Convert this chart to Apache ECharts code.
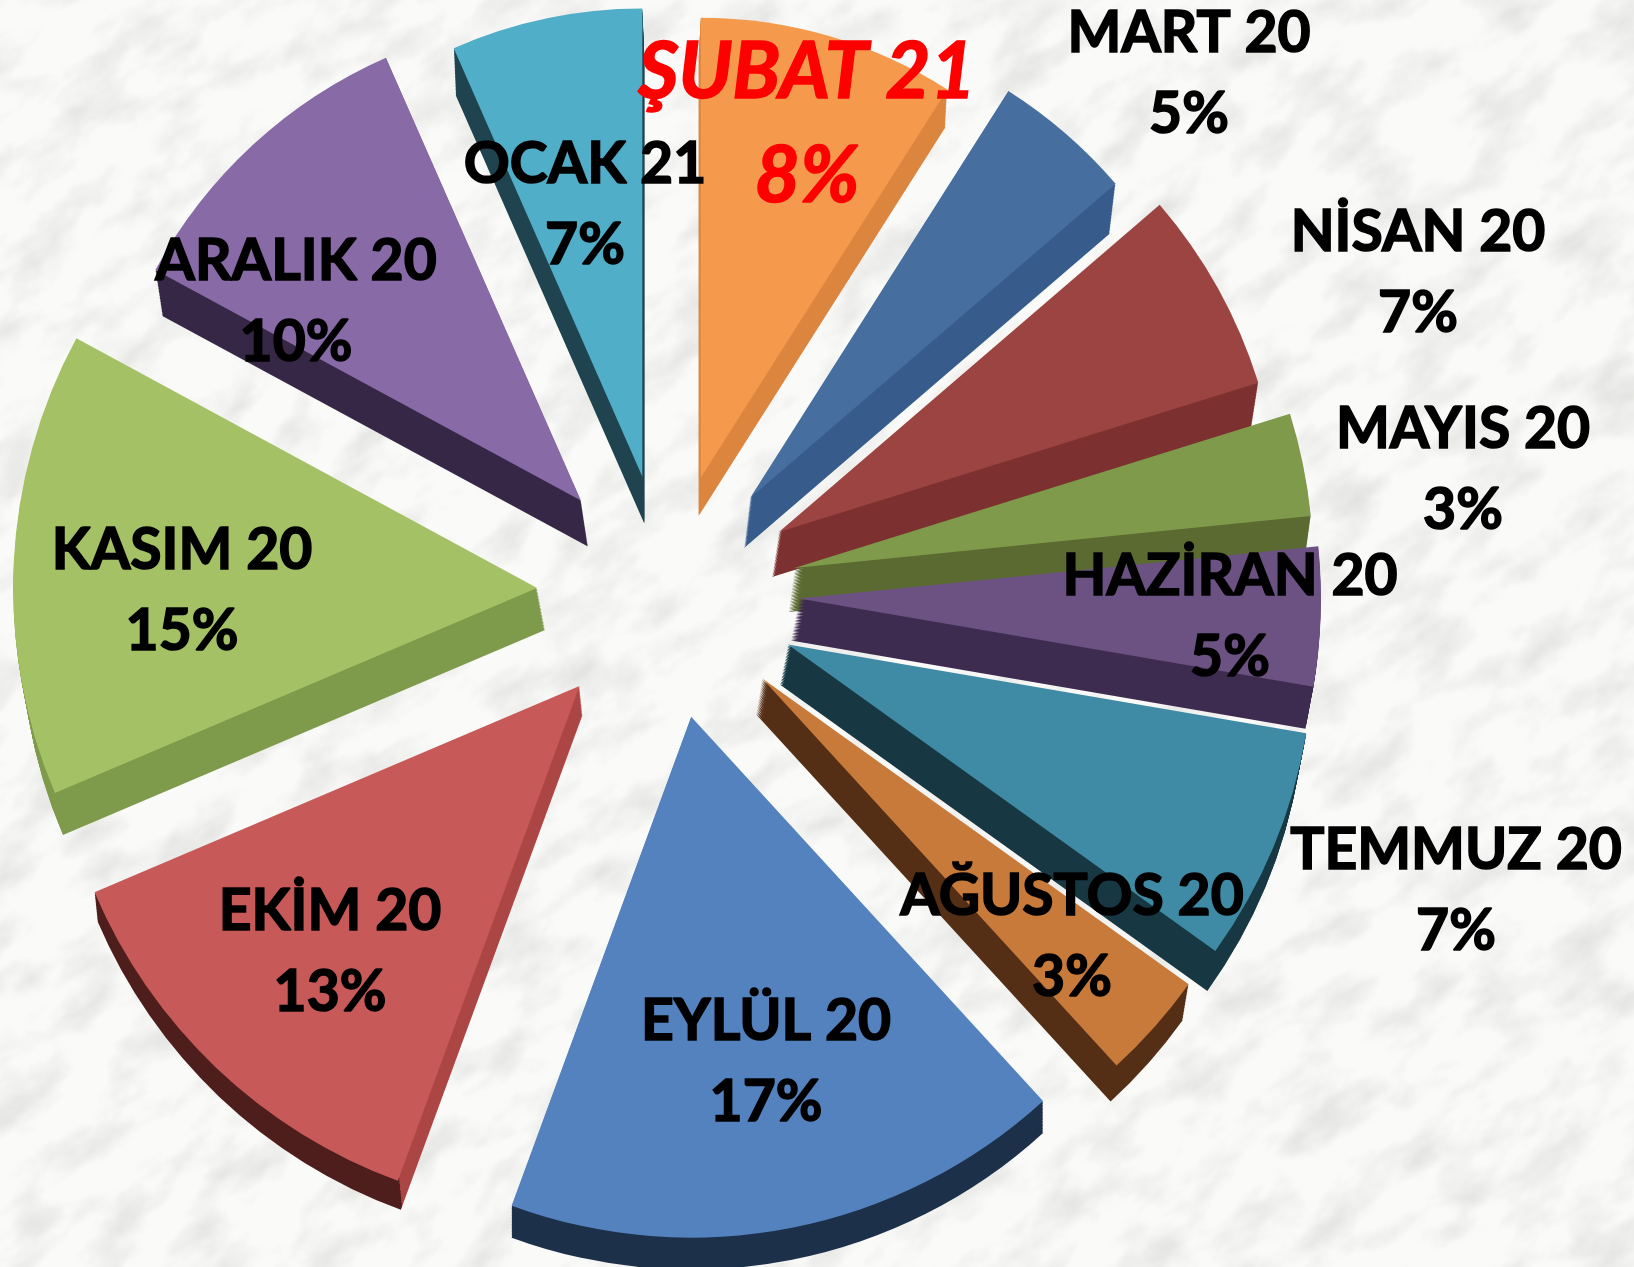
<!DOCTYPE html>
<html>
<head>
<meta charset="utf-8">
<title>Aylik dagilim</title>
<script src="https://cdn.jsdelivr.net/npm/echarts@6/dist/echarts.min.js"></script>
<style>
  html,body{margin:0;padding:0;background:#f7f7f5;overflow:hidden}
  #marble{position:absolute;left:0;top:0}
  #main{position:absolute;left:0;top:0;width:1634px;height:1267px}
</style>
</head>
<body>
<!-- mermer zemin -->
<svg id="marble" width="1634" height="1267">
  <defs>
    <filter id="veins" x="0" y="0" width="100%" height="100%">
      <feTurbulence type="fractalNoise" baseFrequency="0.014 0.026" numOctaves="5" seed="11"/>
      <feColorMatrix type="matrix" values="0 0 0 0 0.70  0 0 0 0 0.70  0 0 0 0 0.68  1.6 0 0 0 -0.70"/>
      <feGaussianBlur stdDeviation="0.8"/>
    </filter>
  </defs>
  <rect width="1634" height="1267" fill="#fafaf9"/>
  <g transform="rotate(-35 817 633)">
    <rect x="-500" y="-700" width="2700" height="2700" filter="url(#veins)"/>
  </g>
</svg>
<div id="main"></div>
<script>
// aylar, saat yonunde
const months = ['ŞUBAT 21','MART 20','NİSAN 20','MAYIS 20','HAZİRAN 20','TEMMUZ 20','AĞUSTOS 20','EYLÜL 20','EKİM 20','KASIM 20','ARALIK 20','OCAK 21']
// printed percentages
const percents = [8,5,7,3,5,7,3,17,13,15,10,7]
// share of the circle each wedge takes in the picture (perspective makes them differ from the labels)
const wedgeShare = [9.0,4.7,6.5,3.2,4.3,7.2,3.3,17.4,13.0,14.3,10.5,6.6]

const topColors  = ['#f59a4c','#466e9f','#9c4442','#7e9a4a','#6b5283','#3f8ba5','#c87a3a','#5482bf','#c75a58','#a5c165','#886aa6','#51aec9']
const sideColors = ['#dc853e','#375c8b','#7c3130','#5a6a30','#3e2c50','#173842','#552e16','#1d3049','#ac4644','#7e9a4b','#362746','#1f4450']
const rimColors  = ['#dc853e','#375c8b','#7c3130','#5a6a30','#3e2c50','#173842','#552e16','#1d3049','#4e1e1d','#7e9a4b','#362746','#1f4450']

// layout
const START_ANGLE = 90
const pieCenter = [667,594]
const radii   = [460,482,502,519,522,526,525,521,527,524,484,468]
const explode = [121,127,128,130,132,131,127,125,127,130,127,120]
const depthX  = [-2,-6,-7,-6,-8,-8,-6,0,3,8,7,2]
const depthY  = [38,50,45,44,42,40,36,32,29,42,46,47]
const labelX  = [807,1189,1418,1463,1230,1456,1072,766,330,182,296,585]
const labelY  = [125,74,273,470,617,891,937,1062,952,591,302,205]
const LAYER_STEP = 1.5

function pieSeries(i,center,color){
  return {
    type:'pie',
    silent:true,
    animation:false,
    startAngle:START_ANGLE,
    center:center,
    radius:[0,radii[i]],
    label:{show:false},
    labelLine:{show:false},
    emphasis:{disabled:true},
    data:months.map((name,k)=>({
      name:name,
      value:wedgeShare[k],
      itemStyle:{color:k===i?color:'transparent'}
    }))
  }
}

function buildSeries(){
  let series = []
  let total = wedgeShare.reduce((p,c)=>p+c,0)
  let acc = 0
  months.forEach((name,i)=>{
    let mid = (acc+wedgeShare[i]/2)/total*Math.PI*2
    acc += wedgeShare[i]
    let cx = pieCenter[0]+Math.sin(mid)*explode[i]
    let cy = pieCenter[1]-Math.cos(mid)*explode[i]
    // stack of darker copies makes the wall of the wedge
    let layers = Math.ceil(Math.hypot(depthX[i],depthY[i])/LAYER_STEP)
    for(let l=layers;l>0;l--){
      let lx = cx+depthX[i]*l/layers
      let ly = cy+depthY[i]*l/layers
      let edge = (radii[i]-4)/radii[i]
      let wall = {
        type:'radial',x:lx,y:ly,r:radii[i],global:true,
        colorStops:[
          {offset:0,color:sideColors[i]},
          {offset:edge,color:sideColors[i]},
          {offset:edge,color:rimColors[i]},
          {offset:1,color:rimColors[i]}
        ]
      }
      series.push(pieSeries(i,[lx,ly],wall))
    }
    series.push(pieSeries(i,[cx,cy],topColors[i]))
  })
  // labels on top of everything
  series.push({
    type:'pie',
    silent:true,
    animation:false,
    startAngle:START_ANGLE,
    center:pieCenter,
    radius:[0,100],
    itemStyle:{color:'transparent'},
    labelLine:{show:false},
    emphasis:{disabled:true},
    label:{
      show:true,
      position:'inside',
      formatter:p=>p.name+'\n'+percents[p.dataIndex]+'%',
      fontFamily:'Lato',
      fontWeight:'bold',
      fontSize:57,
      lineHeight:81,
      color:'#000',
      textBorderColor:'#000',
      textBorderWidth:1.6
    },
    labelLayout:p=>({
      x:labelX[p.dataIndex],
      y:labelY[p.dataIndex],
      align:'center',
      verticalAlign:'middle'
    }),
    data:months.map((name,k)=>{
      let item = {name:name,value:wedgeShare[k]}
      if(k===0){
        item.label = {color:'#ff0000',textBorderColor:'#ff0000',fontStyle:'italic',fontSize:78,lineHeight:104}
      }
      return item
    })
  })
  return series
}

var myChart = echarts.init(document.getElementById('main'),null,{renderer:'canvas'})
myChart.setOption({
  backgroundColor:'transparent',
  animation:false,
  series:buildSeries()
})
</script>
</body>
</html>
